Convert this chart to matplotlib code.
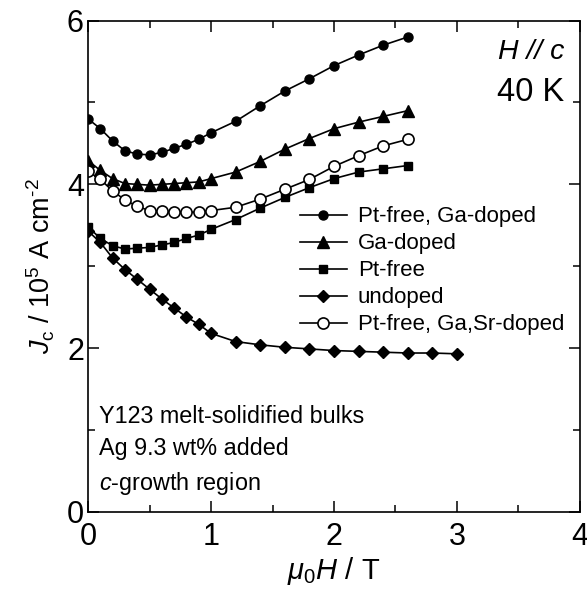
import numpy as np
import matplotlib
matplotlib.use("Agg")
import matplotlib.pyplot as plt
from matplotlib.ticker import MultipleLocator

plt.rcParams['font.family'] = ['Liberation Sans', 'DejaVu Sans']
plt.rcParams['mathtext.fontset'] = 'custom'
plt.rcParams['mathtext.rm'] = 'Liberation Sans'
plt.rcParams['mathtext.it'] = 'Liberation Sans:italic'

# field (T)
field_a = [0, 0.1, 0.2, 0.3, 0.4, 0.5, 0.6, 0.7, 0.8, 0.9, 1.0,
           1.2, 1.4, 1.6, 1.8, 2.0, 2.2, 2.4, 2.6]
field_b = field_a + [2.8, 3.0]

# Jc (1e5 A/cm2)
pt_free_ga = [4.80, 4.68, 4.53, 4.41, 4.37, 4.36, 4.39, 4.44, 4.49, 4.55, 4.63,
              4.77, 4.96, 5.14, 5.29, 5.45, 5.58, 5.70, 5.80]
ga_doped = [4.29, 4.17, 4.07, 4.01, 4.00, 3.99, 4.00, 4.01, 4.02, 4.03, 4.07,
            4.15, 4.28, 4.43, 4.56, 4.68, 4.76, 4.83, 4.90]
pt_free = [3.48, 3.34, 3.25, 3.21, 3.22, 3.23, 3.26, 3.29, 3.34, 3.38, 3.45,
           3.57, 3.71, 3.84, 3.96, 4.07, 4.15, 4.19, 4.23]
undoped = [3.43, 3.29, 3.10, 2.96, 2.84, 2.72, 2.60, 2.49, 2.38, 2.29, 2.18,
           2.08, 2.04, 2.01, 1.99, 1.97, 1.96, 1.95, 1.94, 1.94, 1.93]
pt_free_ga_sr = [4.16, 4.06, 3.92, 3.81, 3.73, 3.68, 3.67, 3.66, 3.66, 3.66, 3.68,
                 3.72, 3.82, 3.94, 4.06, 4.22, 4.35, 4.47, 4.55]

labels = ['Pt-free, Ga-doped', 'Ga-doped', 'Pt-free', 'undoped', 'Pt-free, Ga,Sr-doped']

fig = plt.figure(figsize=(5.87, 5.89), dpi=100)
ax = fig.add_axes([0.15, 0.131, 0.838, 0.834])

lw = 1.2
ax.plot(field_a, pt_free_ga, '-o', color='black', lw=lw, ms=6.5, label=labels[0])
ax.plot(field_a, ga_doped, '-^', color='black', lw=lw, ms=8, label=labels[1])
ax.plot(field_a, pt_free, '-s', color='black', lw=lw, ms=6.3, label=labels[2])
ax.plot(field_b, undoped, '-D', color='black', lw=lw, ms=6.5, label=labels[3])
ax.plot(field_a, pt_free_ga_sr, '-o', color='black', mfc='white', mec='black',
        mew=1.2, lw=lw, ms=8, label=labels[4])

ax.set_xlim(0, 4)
ax.set_ylim(0, 6)
ax.xaxis.set_major_locator(MultipleLocator(1))
ax.xaxis.set_minor_locator(MultipleLocator(0.5))
ax.yaxis.set_major_locator(MultipleLocator(2))
ax.yaxis.set_minor_locator(MultipleLocator(1))
ax.tick_params(which='both', direction='in', top=True, right=True, width=1.1)
ax.tick_params(which='major', length=8, labelsize=22)
ax.tick_params(which='minor', length=5)
ax.tick_params(axis='x', pad=7.5)
ax.tick_params(axis='y', pad=3)
for s in ax.spines.values():
    s.set_linewidth(1.2)

ax.set_xlabel(r'$\mu_0H$ / T', fontsize=21, labelpad=2)
ax.set_ylabel(r'$J_{\mathrm{c}}$ / 10$^{5}$ A cm$^{\text{-}2}$', fontsize=19.5, labelpad=7)

ax.legend(loc='upper left', bbox_to_anchor=(0.431, 0.622), frameon=False,
          fontsize=16, handlelength=2.1, handletextpad=0.5, labelspacing=0.27,
          borderaxespad=0, borderpad=0)

ax.text(0.968, 0.962, 'H // c', transform=ax.transAxes, ha='right', va='top',
        fontsize=20.5, style='italic')
ax.text(0.968, 0.885, '40 K', transform=ax.transAxes, ha='right', va='top',
        fontsize=23.5)
ax.text(0.022, 0.218, 'Y123 melt-solidified bulks\nAg 9.3 wt% added\n$c$-growth region',
        transform=ax.transAxes, ha='left', va='top', fontsize=16.8, linespacing=1.5)

fig.savefig('out.png', dpi=100)
